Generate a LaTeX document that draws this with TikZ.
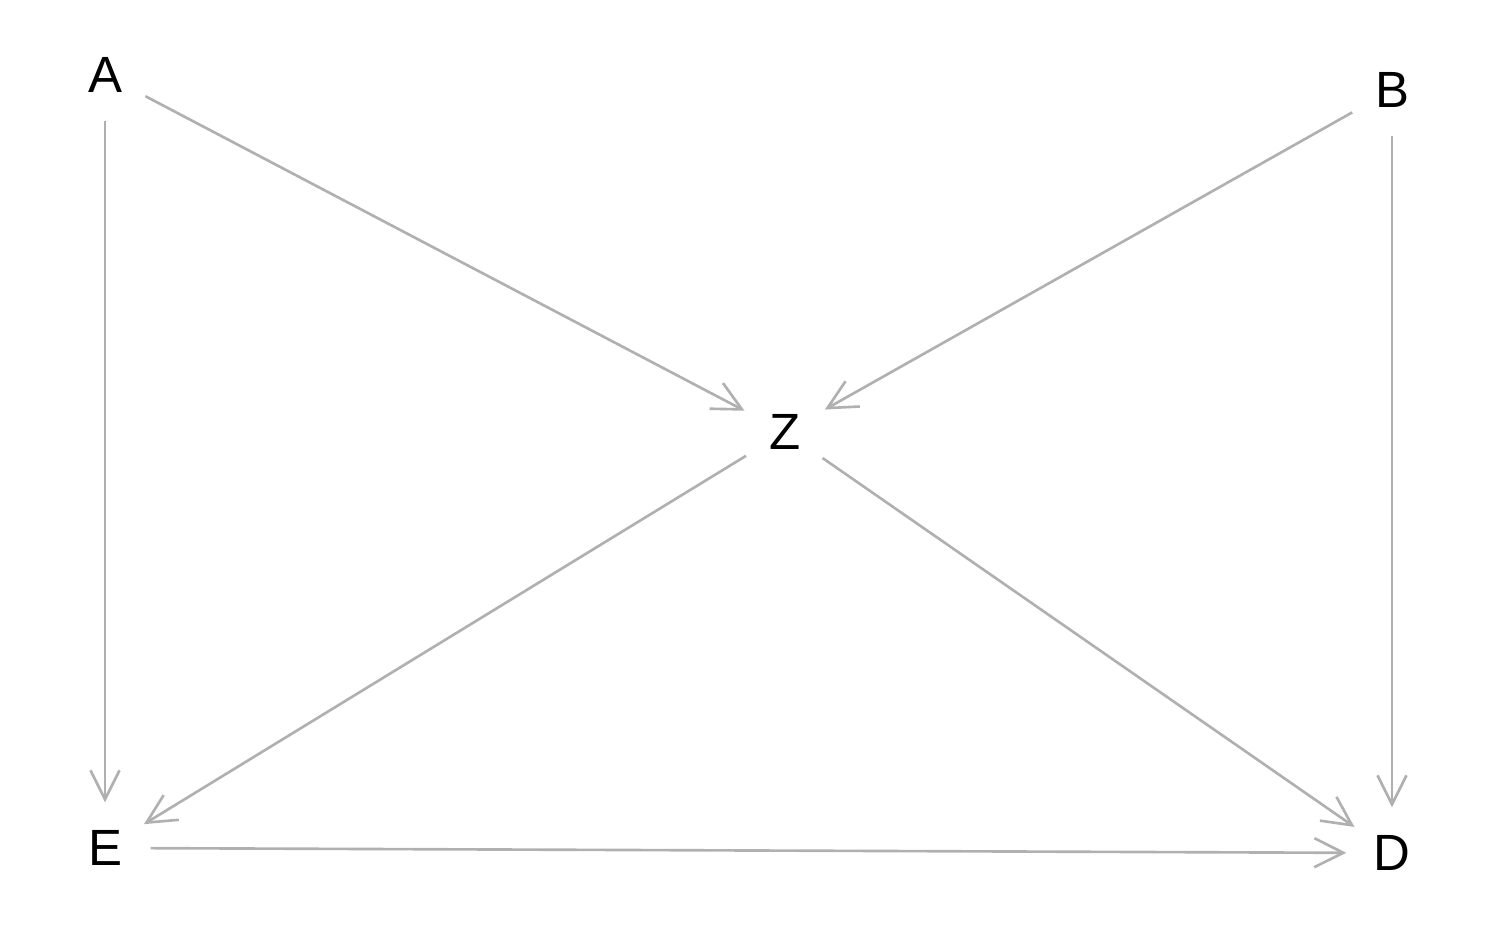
\documentclass[tikz,border=0pt]{standalone}
\usepackage{fontspec}
\setmainfont{Liberation Sans}
\usetikzlibrary{arrows.meta}
\tikzset{
  % variabel pada DAG
  var/.style={circle, minimum size=0.9cm, inner sep=0pt, font=\fontsize{14.5}{16}\selectfont},
  % panah sebab-akibat
  cause/.style={draw=black!31, line width=0.75pt,
                -{Straight Barb[length=2.9mm,width=2.9mm,line width=0.75pt]}},
}

\begin{document}
\begin{tikzpicture}
\useasboundingbox (0,0) rectangle (15,9.27);

% =================== VARIABEL ===================
\node[var] (A) at (1.05,8.52) {A};
\node[var] (B) at (13.92,8.37) {B};
\node[var] (Z) at (7.85,4.95) {Z};
\node[var] (E) at (1.05,0.79) {E};
\node[var] (D) at (13.92,0.74) {D};

% =================== PANAH ===================
\draw[cause] (A) -- (E);
\draw[cause] (A) -- (Z);
\draw[cause] (B) -- (Z);
\draw[cause] (B) -- (D);
\draw[cause] (Z) -- (E);
\draw[cause] (Z) -- (D);
\draw[cause] (E) -- (D);

\end{tikzpicture}
\end{document}
